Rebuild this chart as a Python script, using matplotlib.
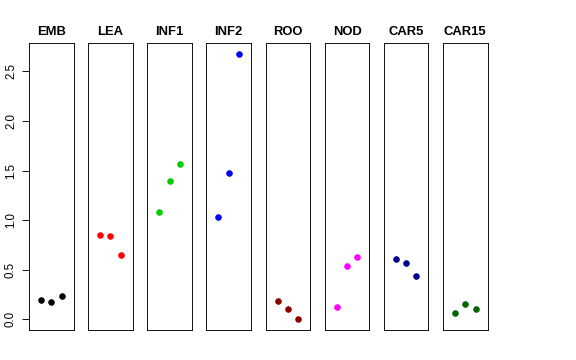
import numpy as np
import matplotlib
matplotlib.use("Agg")
import matplotlib.pyplot as plt

plt.rcParams['font.family'] = ['Liberation Sans', 'DejaVu Sans']

groups = ['EMB', 'LEA', 'INF1', 'INF2', 'ROO', 'NOD', 'CAR5', 'CAR15']
colors = ['black', 'red', '#00CD00', 'blue', '#8B0000', 'magenta', '#00008B', '#006400']
values = [
    [0.20, 0.18, 0.235],
    [0.853, 0.84, 0.648],
    [1.08, 1.40, 1.57],
    [1.034, 1.473, 2.68],
    [0.181, 0.10, 0.0],
    [0.124, 0.54, 0.627],
    [0.611, 0.571, 0.436],
    [0.067, 0.158, 0.10],
]
yticks = [0.0, 0.5, 1.0, 1.5, 2.0, 2.5]

W, H = 576, 360
fig = plt.figure(figsize=(W / 72, H / 72), dpi=72)

allv = np.concatenate(values)
lo, hi = allv.min(), allv.max()
pad = 0.04 * (hi - lo)

left0, step, width = 29, 59.15, 44.5
top, bottom = 43, 330

for i, (g, c, v) in enumerate(zip(groups, colors, values)):
    x0 = left0 + i * step
    ax = fig.add_axes([x0 / W, 1 - bottom / H, width / W, (bottom - top) / H])
    xs = np.arange(1, len(v) + 1)
    ax.plot(xs, v, 'o', color=c, ms=5.5, mec=c)
    ax.set_xlim(0 - 0.16, 4 + 0.16)
    ax.set_ylim(lo - pad, hi + pad)
    ax.set_xticks([])
    ax.set_title(g, fontsize=13, fontweight='bold', pad=8)
    for s in ax.spines.values():
        s.set_linewidth(0.9)
    if i == 0:
        ax.set_yticks(yticks)
        ax.set_yticklabels(['0.0', '0.5', '1.0', '1.5', '2.0', '2.5'],
                           rotation=90, va='center', fontsize=11.5)
        ax.tick_params(axis='y', length=7, width=0.9, pad=5)
    else:
        ax.set_yticks([])

fig.savefig('out.png', dpi=72)
